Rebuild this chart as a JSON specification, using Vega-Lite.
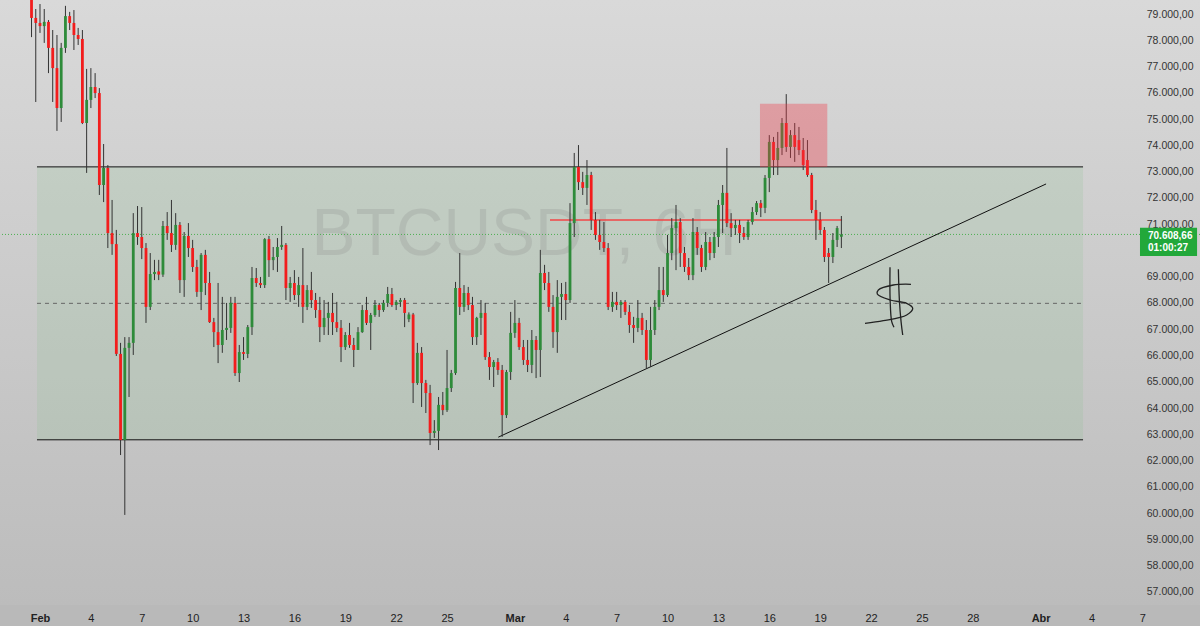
{
"$schema": "https://vega.github.io/schema/vega-lite/v6.json",
"width": 1200, "height": 605,
"autosize": {"type": "none"},
"padding": {"left": 0, "top": 0, "right": 0, "bottom": 21},
"background": "#b9b9b9",
"config": {
  "view": {"stroke": null, "fill": {"gradient": "linear", "x1": 0, "y1": 0, "x2": 0, "y2": 1, "stops": [{"offset": 0, "color": "#d9d9d9"}, {"offset": 1, "color": "#bcbcbc"}]}},
  "locale": {"number": {"decimal": ",", "thousands": ".", "grouping": [3], "currency": ["", ""]}},
  "axis": {"title": null, "grid": false, "domain": false, "ticks": false, "tickSize": 0, "labelOverlap": false, "labelFlush": false}
},
"datasets": {
  "candles": [
{"t":"2026-01-31T12:00","o":79720,"h":79910,"l":78120,"c":78850},
{"t":"2026-01-31T18:00","o":78850,"h":79190,"l":75650,"c":78660},
{"t":"2026-02-01T00:00","o":78660,"h":79380,"l":78280,"c":78540},
{"t":"2026-02-01T06:00","o":78540,"h":79190,"l":77900,"c":78700},
{"t":"2026-02-01T12:00","o":78700,"h":78770,"l":76750,"c":77710},
{"t":"2026-02-01T18:00","o":77710,"h":78390,"l":75650,"c":76940},
{"t":"2026-02-02T00:00","o":76940,"h":78200,"l":74550,"c":75420},
{"t":"2026-02-02T06:00","o":75420,"h":77900,"l":74890,"c":77710},
{"t":"2026-02-02T12:00","o":77710,"h":79310,"l":77520,"c":78920},
{"t":"2026-02-02T18:00","o":78920,"h":79080,"l":78390,"c":78660},
{"t":"2026-02-03T00:00","o":78660,"h":79150,"l":77630,"c":78200},
{"t":"2026-02-03T06:00","o":78200,"h":78470,"l":77820,"c":78050},
{"t":"2026-02-03T12:00","o":78050,"h":78390,"l":74810,"c":74850},
{"t":"2026-02-03T18:00","o":74850,"h":76910,"l":72950,"c":75730},
{"t":"2026-02-04T00:00","o":75730,"h":76940,"l":75420,"c":76220},
{"t":"2026-02-04T06:00","o":76220,"h":76750,"l":75800,"c":75990},
{"t":"2026-02-04T12:00","o":75990,"h":76180,"l":72110,"c":72490},
{"t":"2026-02-04T18:00","o":72490,"h":74050,"l":71840,"c":73140},
{"t":"2026-02-05T00:00","o":73140,"h":73250,"l":70090,"c":70660},
{"t":"2026-02-05T06:00","o":70660,"h":71920,"l":69830,"c":70240},
{"t":"2026-02-05T12:00","o":70240,"h":70780,"l":65980,"c":66060},
{"t":"2026-02-05T18:00","o":66060,"h":66480,"l":62210,"c":62780},
{"t":"2026-02-06T00:00","o":62780,"h":66700,"l":59930,"c":66290},
{"t":"2026-02-06T06:00","o":66290,"h":66700,"l":64420,"c":66480},
{"t":"2026-02-06T12:00","o":66480,"h":71420,"l":66020,"c":70660},
{"t":"2026-02-06T18:00","o":70660,"h":71690,"l":70210,"c":70510},
{"t":"2026-02-07T00:00","o":70510,"h":71650,"l":69670,"c":70090},
{"t":"2026-02-07T06:00","o":70090,"h":70280,"l":67240,"c":67850},
{"t":"2026-02-07T12:00","o":67850,"h":69900,"l":67730,"c":69100},
{"t":"2026-02-07T18:00","o":69100,"h":69640,"l":68870,"c":69180},
{"t":"2026-02-08T00:00","o":69200,"h":69640,"l":68870,"c":69080},
{"t":"2026-02-08T06:00","o":69080,"h":71120,"l":68990,"c":70930},
{"t":"2026-02-08T12:00","o":70930,"h":71460,"l":70400,"c":70660},
{"t":"2026-02-08T18:00","o":70660,"h":71920,"l":69940,"c":70210},
{"t":"2026-02-09T00:00","o":70210,"h":71420,"l":70020,"c":70970},
{"t":"2026-02-09T06:00","o":70970,"h":71080,"l":68380,"c":68870},
{"t":"2026-02-09T12:00","o":68870,"h":70700,"l":68230,"c":70550},
{"t":"2026-02-09T18:00","o":70550,"h":71040,"l":69750,"c":70090},
{"t":"2026-02-10T00:00","o":70090,"h":70400,"l":69180,"c":69370},
{"t":"2026-02-10T06:00","o":69370,"h":69640,"l":68230,"c":68420},
{"t":"2026-02-10T12:00","o":68420,"h":69900,"l":67730,"c":69830},
{"t":"2026-02-10T18:00","o":69830,"h":70020,"l":68300,"c":68760},
{"t":"2026-02-11T00:00","o":68760,"h":69180,"l":67240,"c":67270},
{"t":"2026-02-11T06:00","o":67270,"h":67430,"l":66320,"c":66890},
{"t":"2026-02-11T12:00","o":66890,"h":68760,"l":65710,"c":66400},
{"t":"2026-02-11T18:00","o":66400,"h":68230,"l":66100,"c":66970},
{"t":"2026-02-12T00:00","o":66970,"h":68000,"l":66590,"c":67050},
{"t":"2026-02-12T06:00","o":67050,"h":68230,"l":66860,"c":68000},
{"t":"2026-02-12T12:00","o":68000,"h":68230,"l":65220,"c":65330},
{"t":"2026-02-12T18:00","o":65330,"h":66400,"l":64990,"c":66130},
{"t":"2026-02-13T00:00","o":66130,"h":66700,"l":65830,"c":66060},
{"t":"2026-02-13T06:00","o":66060,"h":67160,"l":65900,"c":67080},
{"t":"2026-02-13T12:00","o":67080,"h":69370,"l":66780,"c":68950},
{"t":"2026-02-13T18:00","o":68950,"h":69330,"l":68610,"c":68760},
{"t":"2026-02-14T00:00","o":68760,"h":68990,"l":68570,"c":68680},
{"t":"2026-02-14T06:00","o":68680,"h":70470,"l":68570,"c":70430},
{"t":"2026-02-14T12:00","o":70430,"h":70550,"l":68990,"c":69630},
{"t":"2026-02-14T18:00","o":69630,"h":70130,"l":69250,"c":69750},
{"t":"2026-02-15T00:00","o":69750,"h":70470,"l":69180,"c":70130},
{"t":"2026-02-15T06:00","o":70130,"h":70930,"l":70020,"c":70210},
{"t":"2026-02-15T12:00","o":70210,"h":70280,"l":68110,"c":68570},
{"t":"2026-02-15T18:00","o":68570,"h":68990,"l":68040,"c":68760},
{"t":"2026-02-16T00:00","o":68760,"h":69250,"l":68110,"c":68300},
{"t":"2026-02-16T06:00","o":68300,"h":68990,"l":67850,"c":68680},
{"t":"2026-02-16T12:00","o":68680,"h":70090,"l":67240,"c":67850},
{"t":"2026-02-16T18:00","o":67850,"h":68680,"l":67730,"c":68490},
{"t":"2026-02-17T00:00","o":68490,"h":69180,"l":67810,"c":68110},
{"t":"2026-02-17T06:00","o":68110,"h":68380,"l":67430,"c":67730},
{"t":"2026-02-17T12:00","o":67730,"h":68230,"l":66510,"c":67080},
{"t":"2026-02-17T18:00","o":67080,"h":68110,"l":66780,"c":67430},
{"t":"2026-02-18T00:00","o":67430,"h":68040,"l":66780,"c":67620},
{"t":"2026-02-18T06:00","o":67620,"h":68380,"l":66780,"c":67270},
{"t":"2026-02-18T12:00","o":67270,"h":68040,"l":66890,"c":67050},
{"t":"2026-02-18T18:00","o":67050,"h":67350,"l":65750,"c":66320},
{"t":"2026-02-19T00:00","o":66320,"h":66890,"l":66210,"c":66780},
{"t":"2026-02-19T06:00","o":66780,"h":67240,"l":66290,"c":66400},
{"t":"2026-02-19T12:00","o":66400,"h":66670,"l":65560,"c":66210},
{"t":"2026-02-19T18:00","o":66210,"h":67080,"l":66210,"c":66890},
{"t":"2026-02-20T00:00","o":66890,"h":67920,"l":66860,"c":67730},
{"t":"2026-02-20T06:00","o":67730,"h":68230,"l":67160,"c":67240},
{"t":"2026-02-20T12:00","o":67240,"h":67620,"l":66210,"c":67540},
{"t":"2026-02-20T18:00","o":67540,"h":68110,"l":67470,"c":67920},
{"t":"2026-02-21T00:00","o":67920,"h":68000,"l":67470,"c":67730},
{"t":"2026-02-21T06:00","o":67730,"h":68110,"l":67660,"c":68000},
{"t":"2026-02-21T12:00","o":68000,"h":68610,"l":67850,"c":68340},
{"t":"2026-02-21T18:00","o":68340,"h":68570,"l":67850,"c":67920},
{"t":"2026-02-22T00:00","o":67920,"h":68110,"l":67730,"c":68040},
{"t":"2026-02-22T06:00","o":68040,"h":68190,"l":67850,"c":68110},
{"t":"2026-02-22T12:00","o":68110,"h":68190,"l":67080,"c":67620},
{"t":"2026-02-22T18:00","o":67380,"h":67640,"l":67270,"c":67560},
{"t":"2026-02-23T00:00","o":67560,"h":67620,"l":64190,"c":64950},
{"t":"2026-02-23T06:00","o":64950,"h":66480,"l":64880,"c":66100},
{"t":"2026-02-23T12:00","o":66100,"h":66320,"l":64040,"c":64950},
{"t":"2026-02-23T18:00","o":64950,"h":65070,"l":63810,"c":64570},
{"t":"2026-02-24T00:00","o":64570,"h":64880,"l":62590,"c":63050},
{"t":"2026-02-24T06:00","o":63050,"h":63540,"l":62860,"c":63130},
{"t":"2026-02-24T12:00","o":63130,"h":64420,"l":62400,"c":64120},
{"t":"2026-02-24T18:00","o":64120,"h":64610,"l":63730,"c":63920},
{"t":"2026-02-25T00:00","o":63920,"h":66210,"l":63850,"c":64760},
{"t":"2026-02-25T06:00","o":64760,"h":65450,"l":64610,"c":65330},
{"t":"2026-02-25T12:00","o":65330,"h":68800,"l":65260,"c":68570},
{"t":"2026-02-25T18:00","o":68570,"h":69900,"l":67540,"c":67850},
{"t":"2026-02-26T00:00","o":67850,"h":68680,"l":67660,"c":68380},
{"t":"2026-02-26T06:00","o":68380,"h":68610,"l":67730,"c":67920},
{"t":"2026-02-26T12:00","o":67920,"h":68230,"l":66400,"c":66700},
{"t":"2026-02-26T18:00","o":66700,"h":67470,"l":66400,"c":67430},
{"t":"2026-02-27T00:00","o":67430,"h":68110,"l":66780,"c":67620},
{"t":"2026-02-27T06:00","o":67620,"h":68000,"l":65830,"c":65940},
{"t":"2026-02-27T12:00","o":65940,"h":66130,"l":65070,"c":65560},
{"t":"2026-02-27T18:00","o":65560,"h":65830,"l":64800,"c":65750},
{"t":"2026-02-28T00:00","o":65750,"h":65900,"l":65260,"c":65450},
{"t":"2026-02-28T06:00","o":65450,"h":65640,"l":62900,"c":63730},
{"t":"2026-02-28T12:00","o":63730,"h":65450,"l":63620,"c":65370},
{"t":"2026-02-28T18:00","o":65370,"h":67660,"l":65070,"c":66860},
{"t":"2026-03-01T00:00","o":66860,"h":68110,"l":66670,"c":67240},
{"t":"2026-03-01T06:00","o":67240,"h":67430,"l":66210,"c":66320},
{"t":"2026-03-01T12:00","o":66320,"h":66590,"l":65640,"c":65830},
{"t":"2026-03-01T18:00","o":65830,"h":66590,"l":65370,"c":65640},
{"t":"2026-03-02T00:00","o":65640,"h":66970,"l":65330,"c":66590},
{"t":"2026-03-02T06:00","o":66590,"h":66740,"l":65140,"c":66210},
{"t":"2026-03-02T12:00","o":66210,"h":70020,"l":65180,"c":69140},
{"t":"2026-03-02T18:00","o":69140,"h":69450,"l":68490,"c":68760},
{"t":"2026-03-03T00:00","o":68760,"h":69180,"l":67660,"c":67850},
{"t":"2026-03-03T06:00","o":67850,"h":68300,"l":66290,"c":66890},
{"t":"2026-03-03T12:00","o":66890,"h":68870,"l":66100,"c":68230},
{"t":"2026-03-03T18:00","o":68230,"h":68760,"l":67350,"c":68340},
{"t":"2026-03-04T00:00","o":68340,"h":68800,"l":67350,"c":68110},
{"t":"2026-03-04T06:00","o":68110,"h":71800,"l":68000,"c":71040},
{"t":"2026-03-04T12:00","o":71040,"h":73710,"l":70510,"c":73180},
{"t":"2026-03-04T18:00","o":73180,"h":74010,"l":72300,"c":72600},
{"t":"2026-03-05T00:00","o":72600,"h":72990,"l":72110,"c":72380},
{"t":"2026-03-05T06:00","o":72380,"h":73440,"l":71730,"c":72870},
{"t":"2026-03-05T12:00","o":72870,"h":72990,"l":70780,"c":71160},
{"t":"2026-03-05T18:00","o":71160,"h":71460,"l":70400,"c":70590},
{"t":"2026-03-06T00:00","o":70590,"h":71160,"l":70020,"c":70320},
{"t":"2026-03-06T06:00","o":70320,"h":71080,"l":69940,"c":70090},
{"t":"2026-03-06T12:00","o":70090,"h":70280,"l":67730,"c":67850},
{"t":"2026-03-06T18:00","o":67850,"h":68420,"l":67660,"c":68040},
{"t":"2026-03-07T00:00","o":68040,"h":68420,"l":67730,"c":67920},
{"t":"2026-03-07T06:00","o":67920,"h":68110,"l":67430,"c":68040},
{"t":"2026-03-07T12:00","o":68040,"h":68110,"l":67540,"c":67660},
{"t":"2026-03-07T18:00","o":67660,"h":67920,"l":66860,"c":67160},
{"t":"2026-03-08T00:00","o":67160,"h":67470,"l":66480,"c":67050},
{"t":"2026-03-08T06:00","o":67050,"h":68110,"l":66890,"c":67430},
{"t":"2026-03-08T12:00","o":67430,"h":67620,"l":66780,"c":66970},
{"t":"2026-03-08T18:00","o":66970,"h":67350,"l":65520,"c":65830},
{"t":"2026-03-09T00:00","o":65830,"h":67850,"l":65560,"c":66970},
{"t":"2026-03-09T06:00","o":66970,"h":68110,"l":66780,"c":67850},
{"t":"2026-03-09T12:00","o":67850,"h":69370,"l":67730,"c":68490},
{"t":"2026-03-09T18:00","o":68490,"h":69370,"l":68040,"c":68300},
{"t":"2026-03-10T00:00","o":68300,"h":70590,"l":68230,"c":69900},
{"t":"2026-03-10T06:00","o":69900,"h":71230,"l":69630,"c":70850},
{"t":"2026-03-10T12:00","o":70850,"h":71730,"l":69250,"c":71080},
{"t":"2026-03-10T18:00","o":71080,"h":71230,"l":69370,"c":69900},
{"t":"2026-03-11T00:00","o":69900,"h":70130,"l":69180,"c":69370},
{"t":"2026-03-11T06:00","o":69370,"h":69710,"l":68870,"c":69060},
{"t":"2026-03-11T12:00","o":69060,"h":71230,"l":68870,"c":70700},
{"t":"2026-03-11T18:00","o":70700,"h":70890,"l":69830,"c":70090},
{"t":"2026-03-12T00:00","o":70090,"h":70210,"l":69180,"c":69370},
{"t":"2026-03-12T06:00","o":69370,"h":70700,"l":69250,"c":70320},
{"t":"2026-03-12T12:00","o":70320,"h":70510,"l":69630,"c":69900},
{"t":"2026-03-12T18:00","o":69900,"h":70700,"l":69710,"c":70510},
{"t":"2026-03-13T00:00","o":70510,"h":71920,"l":70130,"c":71730},
{"t":"2026-03-13T06:00","o":71730,"h":72490,"l":70660,"c":72190},
{"t":"2026-03-13T12:00","o":72190,"h":73900,"l":70890,"c":71040},
{"t":"2026-03-13T18:00","o":71040,"h":71420,"l":70510,"c":70850},
{"t":"2026-03-14T00:00","o":70850,"h":71160,"l":70590,"c":70970},
{"t":"2026-03-14T06:00","o":70970,"h":71160,"l":70280,"c":70660},
{"t":"2026-03-14T12:00","o":70660,"h":70890,"l":70400,"c":70510},
{"t":"2026-03-14T18:00","o":70510,"h":71160,"l":70400,"c":71080},
{"t":"2026-03-15T00:00","o":71080,"h":71650,"l":70980,"c":71460},
{"t":"2026-03-15T06:00","o":71460,"h":71880,"l":71350,"c":71800},
{"t":"2026-03-15T12:00","o":71800,"h":71920,"l":71270,"c":71620},
{"t":"2026-03-15T18:00","o":71620,"h":72870,"l":71420,"c":72760},
{"t":"2026-03-16T00:00","o":72760,"h":74390,"l":72220,"c":74130},
{"t":"2026-03-16T06:00","o":74130,"h":74320,"l":72870,"c":73440},
{"t":"2026-03-16T12:00","o":73440,"h":74510,"l":72870,"c":73900},
{"t":"2026-03-16T18:00","o":73900,"h":75040,"l":73630,"c":74850},
{"t":"2026-03-17T00:00","o":74850,"h":75950,"l":73750,"c":73940},
{"t":"2026-03-17T06:00","o":73940,"h":74580,"l":73520,"c":74390},
{"t":"2026-03-17T12:00","o":74390,"h":74850,"l":73370,"c":73940},
{"t":"2026-03-17T18:00","o":74200,"h":74700,"l":73630,"c":73820},
{"t":"2026-03-18T00:00","o":73820,"h":74280,"l":73060,"c":73250},
{"t":"2026-03-18T06:00","o":73440,"h":74200,"l":72800,"c":72870},
{"t":"2026-03-18T12:00","o":72870,"h":72950,"l":71420,"c":71540},
{"t":"2026-03-18T18:00","o":71540,"h":71920,"l":70400,"c":71160},
{"t":"2026-03-19T00:00","o":71160,"h":71460,"l":70590,"c":70780},
{"t":"2026-03-19T06:00","o":70780,"h":70890,"l":69560,"c":69750},
{"t":"2026-03-19T12:00","o":69900,"h":70090,"l":68760,"c":69750},
{"t":"2026-03-19T18:00","o":69750,"h":70660,"l":69520,"c":70400},
{"t":"2026-03-20T00:00","o":70400,"h":70930,"l":70130,"c":70850},
{"t":"2026-03-20T06:00","o":70520,"h":71310,"l":70090,"c":70608.66}
  ],
  "dollar": [
{"g":"s","i":0,"t":"2026-03-24T08:30","p":68710},
{"g":"s","i":1,"t":"2026-03-23T07:30","p":68683},
{"g":"s","i":2,"t":"2026-03-22T10:20","p":68493},
{"g":"s","i":3,"t":"2026-03-22T08:50","p":68341},
{"g":"s","i":4,"t":"2026-03-23T02:50","p":68112},
{"g":"s","i":5,"t":"2026-03-24T02:25","p":67986},
{"g":"s","i":6,"t":"2026-03-24T11:00","p":67796},
{"g":"s","i":7,"t":"2026-03-24T02:25","p":67541},
{"g":"s","i":8,"t":"2026-03-22T17:20","p":67324},
{"g":"s","i":9,"t":"2026-03-21T15:25","p":67225},
{"g":"a","i":0,"t":"2026-03-23T02:50","p":69357},
{"g":"a","i":1,"t":"2026-03-23T03:00","p":68112},
{"g":"a","i":2,"t":"2026-03-23T05:15","p":67286},
{"g":"a","i":3,"t":"2026-03-23T08:25","p":67073},
{"g":"b","i":0,"t":"2026-03-23T14:40","p":69281},
{"g":"b","i":1,"t":"2026-03-23T16:05","p":68112},
{"g":"b","i":2,"t":"2026-03-23T18:30","p":67286},
{"g":"b","i":3,"t":"2026-03-23T20:50","p":66780}
  ]
},
"layer": [
  {
    "data": {"values": [{"t1": "2026-01-31T19:45", "t2": "2026-04-03T12:00", "p1": 62790, "p2": 73180}]},
    "mark": {"type": "rect", "fill": "#7fc282", "fillOpacity": 0.16},
    "encoding": {
      "x": {"field": "t1", "type": "temporal",
        "scale": {"domain": [{"year": 2026, "month": 1, "date": 29, "hours": 15, "minutes": 24}, {"year": 2026, "month": 4, "date": 10, "hours": 9, "minutes": 30}]},
        "axis": {"orient": "bottom", "tickCount": 60,
          "values": [{"year":2026,"month":2,"date":1},{"year":2026,"month":2,"date":4},{"year":2026,"month":2,"date":7},{"year":2026,"month":2,"date":10},{"year":2026,"month":2,"date":13},{"year":2026,"month":2,"date":16},{"year":2026,"month":2,"date":19},{"year":2026,"month":2,"date":22},{"year":2026,"month":2,"date":25},{"year":2026,"month":3,"date":1},{"year":2026,"month":3,"date":4},{"year":2026,"month":3,"date":7},{"year":2026,"month":3,"date":10},{"year":2026,"month":3,"date":13},{"year":2026,"month":3,"date":16},{"year":2026,"month":3,"date":19},{"year":2026,"month":3,"date":22},{"year":2026,"month":3,"date":25},{"year":2026,"month":3,"date":28},{"year":2026,"month":4,"date":1},{"year":2026,"month":4,"date":4},{"year":2026,"month":4,"date":7}],
          "labelExpr": "date(datum.value) == 1 ? (month(datum.value) == 1 ? 'Feb' : month(datum.value) == 2 ? 'Mar' : 'Abr') : '' + date(datum.value)",
          "labelFont": "Liberation Sans", "labelFontSize": 11, "labelColor": "#222222", "labelPadding": 7,
          "labelFontWeight": {"condition": {"test": "date(datum.value) == 1", "value": "bold"}, "value": "normal"}}},
      "x2": {"field": "t2"},
      "y": {"field": "p1", "type": "quantitative",
        "scale": {"domain": [56501, 79533], "nice": false, "zero": false},
        "axis": {"orient": "right", "tickCount": 60,
          "values": [57000,58000,59000,60000,61000,62000,63000,64000,65000,66000,67000,68000,69000,71000,72000,73000,74000,75000,76000,77000,78000,79000],
          "format": ",.2f", "labelAlign": "right", "labelPadding": -7,
          "labelFont": "Liberation Sans", "labelFontSize": 10.5, "labelColor": "#333333"}},
      "y2": {"field": "p2"}
    }
  },
  {
    "data": {"values": [{"t": "2026-03-01T13:00", "p": 70590, "s": "BTCUSDT, 6H"}]},
    "mark": {"type": "text", "font": "Liberation Sans", "fontSize": 66, "fill": "#808080", "opacity": 0.2, "align": "center", "baseline": "middle"},
    "encoding": {"x": {"field": "t", "type": "temporal"}, "y": {"field": "p", "type": "quantitative"}, "text": {"field": "s"}}
  },
  {
    "data": {"values": [{"t1": "2026-01-31T19:45", "t2": "2026-04-03T12:00", "p": 67985}]},
    "mark": {"type": "rule", "stroke": "#666666", "strokeWidth": 1, "strokeDash": [4, 4]},
    "encoding": {"x": {"field": "t1", "type": "temporal"}, "x2": {"field": "t2"}, "y": {"field": "p", "type": "quantitative"}}
  },
  {
    "data": {"values": [{"p": 70608.66}]},
    "mark": {"type": "rule", "stroke": "#4caf50", "strokeWidth": 1, "strokeDash": [1, 2]},
    "encoding": {"y": {"field": "p", "type": "quantitative"}}
  },
  {
    "data": {"values": [
      {"t1": "2026-01-31T19:45", "t2": "2026-04-03T12:00", "p1": 73180, "p2": 73180},
      {"t1": "2026-01-31T19:45", "t2": "2026-04-03T12:00", "p1": 62790, "p2": 62790},
      {"t1": "2026-02-28T00:30", "t2": "2026-04-01T07:40", "p1": 62890, "p2": 72530}
    ]},
    "mark": {"type": "rule", "stroke": "#111111", "strokeWidth": 1},
    "encoding": {"x": {"field": "t1", "type": "temporal"}, "x2": {"field": "t2"}, "y": {"field": "p1", "type": "quantitative"}, "y2": {"field": "p2"}}
  },
  {
    "data": {"values": [{"t1": "2026-03-03T01:40", "t2": "2026-03-20T07:00", "p": 71160}]},
    "mark": {"type": "rule", "stroke": "#f24646", "strokeWidth": 1.6},
    "encoding": {"x": {"field": "t1", "type": "temporal"}, "x2": {"field": "t2"}, "y": {"field": "p", "type": "quantitative"}}
  },
  {
    "data": {"name": "candles"},
    "mark": {"type": "rule", "stroke": "#333333", "strokeWidth": 1, "clip": true},
    "encoding": {"x": {"field": "t", "type": "temporal"}, "y": {"field": "l", "type": "quantitative"}, "y2": {"field": "h"}}
  },
  {
    "data": {"name": "candles"},
    "mark": {"type": "rule", "strokeWidth": 2.8, "strokeCap": "butt", "clip": true},
    "encoding": {"x": {"field": "t", "type": "temporal"}, "y": {"field": "o", "type": "quantitative"}, "y2": {"field": "c"},
      "color": {"condition": {"test": "datum.c >= datum.o", "value": "#2e8b3a"}, "value": "#f21d1d"}}
  },
  {
    "data": {"values": [{"t1": "2026-03-15T10:50", "t2": "2026-03-19T10:05", "p1": 73180, "p2": 75580}]},
    "mark": {"type": "rect", "fill": "#f23645", "fillOpacity": 0.35},
    "encoding": {"x": {"field": "t1", "type": "temporal"}, "x2": {"field": "t2"}, "y": {"field": "p1", "type": "quantitative"}, "y2": {"field": "p2"}}
  },
  {
    "data": {"name": "dollar"},
    "mark": {"type": "line", "stroke": "#222222", "strokeWidth": 1.3, "interpolate": "catmull-rom"},
    "encoding": {"x": {"field": "t", "type": "temporal"}, "y": {"field": "p", "type": "quantitative"}, "detail": {"field": "g"}, "order": {"field": "i", "type": "quantitative"}}
  },
  {
    "data": {"values": [{"t1": "2026-04-06T20:35", "t2": "2026-04-10T05:20", "p1": 69790, "p2": 70860}]},
    "mark": {"type": "rect", "fill": "#22a83a"},
    "encoding": {"x": {"field": "t1", "type": "temporal"}, "x2": {"field": "t2"}, "y": {"field": "p1", "type": "quantitative"}, "y2": {"field": "p2"}}
  },
  {
    "data": {"values": [{"t": "2026-04-07T07:55", "p": 70540, "s": "70.608,66"}, {"t": "2026-04-07T07:55", "p": 70100, "s": "01:00:27"}]},
    "mark": {"type": "text", "font": "Liberation Sans", "fontSize": 10, "fontWeight": "bold", "fill": "#ffffff", "align": "left", "baseline": "middle"},
    "encoding": {"x": {"field": "t", "type": "temporal"}, "y": {"field": "p", "type": "quantitative"}, "text": {"field": "s"}}
  }
]
}
